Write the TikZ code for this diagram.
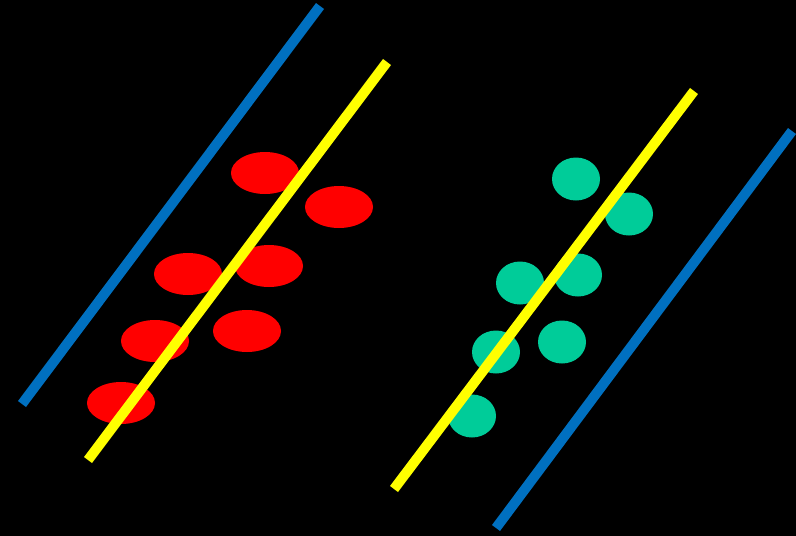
\documentclass[tikz,border=0pt]{standalone}
\usepackage{tikz}
\definecolor{cRed}{HTML}{FF0000}
\definecolor{cGreen}{HTML}{00CC99}
\definecolor{cYellow}{HTML}{FFFF00}
\definecolor{cBlue}{HTML}{0070C0}
\tikzset{
  margin/.style={line width=10pt,color=cBlue},
  hyper/.style={line width=10pt,color=cYellow},
  redpt/.style={fill=cRed,x radius=34pt,y radius=21pt},
  greenpt/.style={fill=cGreen,x radius=24pt,y radius=21.5pt},
}
\begin{document}
\begin{tikzpicture}[x=1pt,y=-1pt]
    \fill[black] (0,0) rectangle (796,536);
    \useasboundingbox (0,0) rectangle (796,536);
    % class one
    \foreach \x/\y in {265/173, 339/207, 188/274, 269/266, 155/341, 247/331, 121/403}{
      \fill[redpt] (\x,\y) ellipse [];}
    % class two
    \foreach \x/\y in {576/179, 629/214, 520/283, 578/275, 496/352, 562/342, 472/416}{
      \fill[greenpt] (\x,\y) ellipse [];}
    % separating lines
    \draw[margin] (22,404) -- (320,6);
    \draw[hyper] (88,460) -- (387,62);
    \draw[hyper] (394,489) -- (694,91);
    \draw[margin] (496,528) -- (792,131);
  \end{tikzpicture}
\end{document}
